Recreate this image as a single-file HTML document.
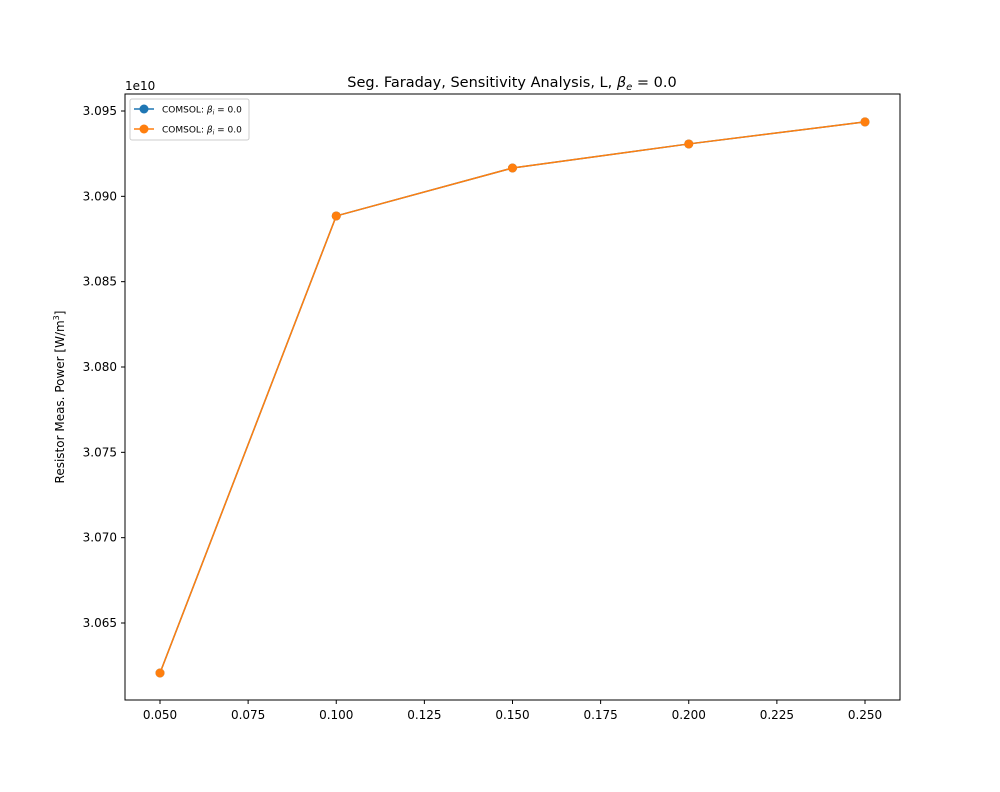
<!DOCTYPE html>
<html><head><meta charset="utf-8"><style>
body{margin:0;background:#fff;font-family:"Liberation Sans","DejaVu Sans",sans-serif;}
text{font-family:"DejaVu Sans","Liberation Sans",sans-serif;}
</style></head><body>
<svg id="chart" width="1000" height="787" xmlns="http://www.w3.org/2000/svg">
<rect width="1000" height="787" fill="#fff"/>
<g id="g"></g>
</svg>
<script>
const xValues=[0.05,0.10,0.15,0.20,0.25];
const seriesBlue=[3.06207,3.08885,3.09166,3.09307,3.09436];
const seriesOrange=[3.06207,3.08885,3.09166,3.09307,3.09436];
const xTicks=[0.05,0.075,0.1,0.125,0.15,0.175,0.2,0.225,0.25];
const xTickLabels=["0.050","0.075","0.100","0.125","0.150","0.175","0.200","0.225","0.250"];
const yTicks=[3.065,3.070,3.075,3.080,3.085,3.090,3.095];
const yTickLabels=["3.065","3.070","3.075","3.080","3.085","3.090","3.095"];
const L=125,R=900,T=94,B=700;
const xs=v=>160+(v-0.05)/0.2*705;
const ys=v=>623-(v-3.065)/0.03*512;
const g=document.getElementById('g');
const NS="http://www.w3.org/2000/svg";
function mk(t,a,txt){const e=document.createElementNS(NS,t);for(const k in a)e.setAttribute(k,a[k]);if(txt!==undefined)e.textContent=txt;g.appendChild(e);return e;}
let e;
e=mk('rect',{x:L,y:T,width:R-L,height:B-T,fill:'none',stroke:'#000','stroke-width':1});


xTicks.forEach((v,i)=>{
 e=mk('line',{x1:xs(v),x2:xs(v),y1:B,y2:B+4,stroke:'#000'});
 
 
 e=mk('text',{x:xs(v),y:B+19,'text-anchor':'middle','font-size':12},xTickLabels[i]);
 
 
});
yTicks.forEach((v,i)=>{
 e=mk('line',{x1:L-4,x2:L,y1:ys(v),y2:ys(v),stroke:'#000'});
 
 
 e=mk('text',{x:L-8,y:ys(v)+4,'text-anchor':'end','font-size':12},yTickLabels[i]);
 
 
});
e=mk('text',{x:125,y:90,'font-size':12},'1e10');


e=mk('text',{x:512,y:87,'text-anchor':'middle','font-size':14.5},'Seg. Faraday, Sensitivity Analysis, L, ');


e.innerHTML='Seg. Faraday, Sensitivity Analysis, L, <tspan font-style="italic">β</tspan><tspan font-size="10" dy="3" font-style="italic">e</tspan><tspan dy="-3"> = 0.0</tspan>';
e=mk('text',{x:0,y:0,'text-anchor':'middle','font-size':12,transform:'translate(64,397) rotate(-90)'});
e.innerHTML='Resistor Meas. Power [W/m<tspan font-size="8" dy="-5">3</tspan><tspan dy="5">]</tspan>';


function series(vals,col,name){
 const pts=xValues.map((x,i)=>xs(x)+','+ys(vals[i])).join(' ');
 e=mk('polyline',{points:pts,fill:'none',stroke:col,'stroke-width':1.5});
 
 
 xValues.forEach((x,i)=>{
  e=mk('circle',{cx:xs(x),cy:ys(vals[i]),r:4.5,fill:col});
  
  
 });
}
series(seriesBlue,'#1f77b4','series-blue');
series(seriesOrange,'#ff7f0e','series-orange');
e=mk('rect',{x:130,y:99,width:119,height:41,rx:2,fill:'#fff',stroke:'#ccc','fill-opacity':0.8});


[['#1f77b4',109],['#ff7f0e',129]].forEach(([c,y],i)=>{
 e=mk('line',{x1:134,x2:154,y1:y,y2:y,stroke:c,'stroke-width':1.5});
 
 
 e=mk('circle',{cx:144,cy:y,r:4.5,fill:c});
 
 
 e=mk('text',{x:162,y:y+3.5,'font-size':9});
 e.innerHTML='COMSOL: <tspan font-style="italic">β</tspan><tspan font-size="6" dy="2" font-style="italic">i</tspan><tspan dy="-2"> = 0.0</tspan>';
 
 
});
</script>
</body></html>
